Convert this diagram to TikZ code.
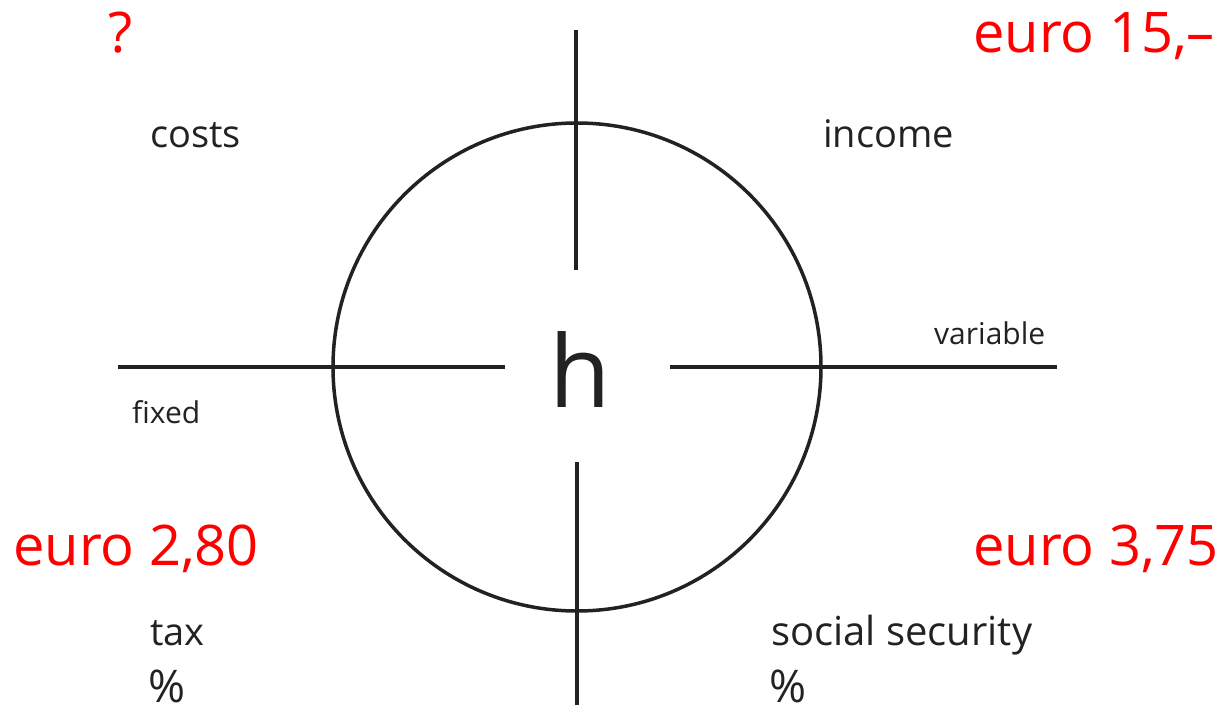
\documentclass[tikz,border=0pt]{standalone}
\usepackage{fontspec}
\setmainfont{Open Sans}
\usepackage{tikz}
\usetikzlibrary{positioning}
\definecolor{labelRed}{RGB}{255, 0, 0}
\definecolor{labelBlack}{RGB}{34, 34, 34}

\begin{document}
\begin{tikzpicture}[x=1pt, y=-1pt,
    axis/.style={line width=3.5pt, draw=labelBlack},
    lbl/.style={inner sep=0pt, anchor=base west, text=labelBlack, font=\fontsize{38}{44}\selectfont},
    smalllbl/.style={lbl, font=\fontsize{30}{36}\selectfont},
    pct/.style={lbl, font=\fontsize{45}{50}\selectfont},
    price/.style={inner sep=0pt, anchor=base west, text=labelRed, font=\fontsize{56}{64}\selectfont}]
    \useasboundingbox (0,0) rectangle (1226,714);

    \coordinate (O) at (577,367);
    \coordinate (Ntop) at (576,30);  \coordinate (Nbot) at (576,270);
    \coordinate (Stop) at (577,462); \coordinate (Sbot) at (577,705);
    \coordinate (Wl) at (118,367);   \coordinate (Wr) at (505,367);
    \coordinate (El) at (670,367);   \coordinate (Er) at (1057,367);

    \draw[axis] (O) circle (244);
    \draw[axis] (Ntop)--(Nbot) (Stop)--(Sbot);
    \draw[axis] (Wl)--(Wr) (El)--(Er);

    \node[inner sep=0pt, anchor=base, text=labelBlack, font=\fontsize{100}{110}\selectfont] (hours) at (580,407) {h};

    \node[price] (costprice) at (108,53) {?};
    \node[lbl] (costs) at (150,148) {costs};
    \node[price] (incomeprice) at (973,53) {euro 15,--};
    \node[lbl] (income) at (823,148) {income};
    \node[smalllbl] (variable) at (934,344) {variable};
    \node[smalllbl] (fixed) at (132,423) {fixed};
    \node[price] (taxprice) at (13,565) {euro 2,80};
    \node[lbl] (tax) at (150,645) {tax};
    \node[pct] (taxpct) at (148,702) {\%};
    \node[price] (socialprice) at (973,565) {euro 3,75};
    \node[lbl, font=\fontsize{40}{46}\selectfont] (social) at (771,645) {social security};
    \node[pct] (socialpct) at (769,702) {\%};
\end{tikzpicture}
\end{document}
